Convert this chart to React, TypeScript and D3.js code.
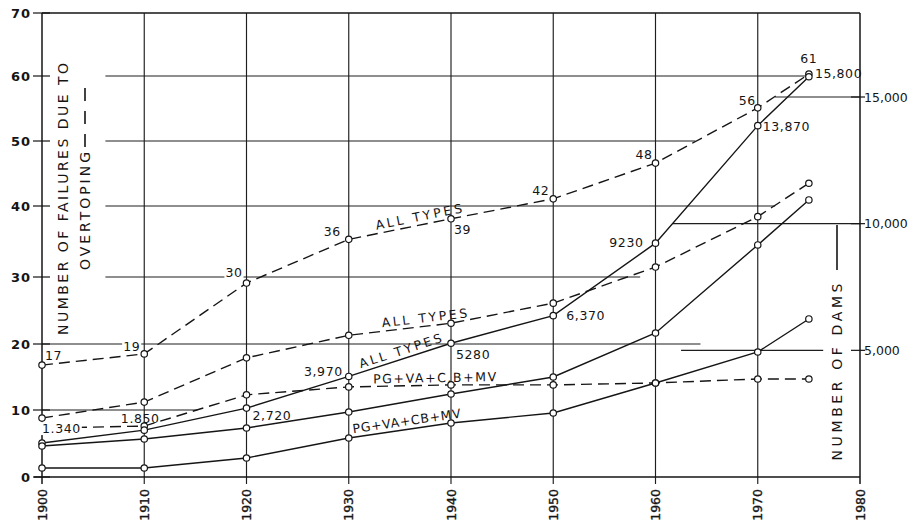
import React, { useEffect, useRef } from "react";
import * as d3 from "d3";

const W = 911;
const H = 530;

// ---- data ----
const years = [1900, 1910, 1920, 1930, 1940, 1950, 1960, 1970, 1975];
// failures due to overtopping (left axis, dashed)
const failuresAllTypes = [16.8, 18.5, 29.1, 35.3, 38.2, 41.1, 46.6, 55.1, 60.3];
const failuresAllTypes2 = [8.8, 11.2, 17.9, 21.3, 23.1, 26.1, 31.4, 38.5, 43.5];
const failuresPGVACBMV = [7.3, 7.6, 12.3, 13.5, 13.8, 13.8, 14.1, 14.7, 14.7];
// number of dams (right axis, solid)
const damsAllTypes = [1340, 1850, 2720, 3970, 5280, 6370, 9230, 13870, 15800];
const damsMiddle = [1224, 1500, 1934, 2566, 3277, 3948, 5685, 9159, 10936];
const damsPGVACBMV = [355, 355, 750, 1540, 2132, 2527, 3711, 4935, 6238];

const failureLabels = ["17", "19", "30", "36", "39", "42", "48", "56", "61"];
const damLabels = ["1.340", "1.850", "2,720", "3,970", "5280", "6,370", "9230", "13,870", "15,800"];

const leftTicks = [0, 10, 20, 30, 40, 50, 60, 70];
const rightTicks = [5000, 10000, 15000];
const rightTickLabels = ["5,000", "10,000", "15,000"];
const xTicks = [1900, 1910, 1920, 1930, 1940, 1950, 1960, 1970, 1980];

const FONT = "DejaVu Sans, sans-serif";
const INK = "#151515";

export default function App() {
  const ref = useRef<SVGSVGElement>(null);

  useEffect(() => {
    const svg = d3.select(ref.current);
    svg.selectAll("*").remove();

    const x = d3.scaleLinear().domain([1900, 1980]).range([42, 860]);
    // hand-drawn scale: grid spacing is slightly irregular
    const yL = d3.scaleLinear().domain(leftTicks).range([477, 410, 344, 277, 206, 141, 76, 13]);
    const yR = d3.scaleLinear().domain([0, 15000]).range([477, 97]);

    const g = svg.append("g");

    // ---- grid ----
    const grid = g.append("g").attr("stroke", "#1e1e1e").attr("stroke-width", 1.15);
    xTicks.slice(1, -1).forEach((t) => {
      grid.append("line").attr("x1", x(t)).attr("x2", x(t)).attr("y1", yL(70)).attr("y2", 484);
    });
    const leftGrid = [
      { v: 60, from: 1906.2, to: 1975.1 },
      { v: 50, from: 1906.2, to: 1963.9 },
      { v: 40, from: 1906.2, to: 1971.7 },
      { v: 30, from: 1906.2, to: 1958.5 },
      { v: 20, from: 1900, to: 1964.4 },
      { v: 10, from: 1900, to: 1915.2 },
    ];
    leftGrid.forEach((d) => {
      grid.append("line").attr("x1", x(d.from)).attr("x2", x(d.to)).attr("y1", yL(d.v)).attr("y2", yL(d.v));
    });
    const rightGrid = [
      { v: 15000, from: 1971.7, to: 1980 },
      { v: 10000, from: 1961.7, to: 1980 },
      { v: 5000, from: 1962.5, to: 1976.4 },
    ];
    rightGrid.forEach((d) => {
      grid.append("line").attr("x1", x(d.from)).attr("x2", x(d.to)).attr("y1", yR(d.v)).attr("y2", yR(d.v));
    });

    // ---- frame / axes ----
    const ax = g.append("g").attr("stroke", INK).attr("stroke-width", 1.5);
    ax.append("line").attr("x1", x(1900)).attr("x2", x(1980)).attr("y1", yL(70)).attr("y2", yL(70));
    ax.append("line").attr("x1", x(1900)).attr("x2", x(1900)).attr("y1", yL(70)).attr("y2", 484);
    ax.append("line").attr("x1", x(1980)).attr("x2", x(1980)).attr("y1", yL(70)).attr("y2", 484);
    ax.append("line").attr("x1", 34).attr("x2", x(1980)).attr("y1", yL(0)).attr("y2", yL(0));
    leftTicks.forEach((t) => {
      ax.append("line").attr("x1", 33).attr("x2", 50).attr("y1", yL(t)).attr("y2", yL(t)).attr("stroke-width", 1.2);
    });
    rightTicks.forEach((t) => {
      ax.append("line").attr("x1", 851).attr("x2", 865).attr("y1", yR(t)).attr("y2", yR(t)).attr("stroke-width", 1.2);
    });

    // ---- tick labels ----
    const tl = g.append("g").attr("font-family", FONT).attr("fill", INK);
    leftTicks.forEach((t) => {
      tl.append("text")
        .attr("x", 31)
        .attr("y", yL(t))
        .attr("text-anchor", "end")
        .attr("dominant-baseline", "central")
        .attr("font-size", 13)
        .attr("font-weight", "bold")
        .attr("letter-spacing", 1)
        .text(String(t));
    });
    rightTicks.forEach((t, i) => {
      tl.append("text")
        .attr("x", 864)
        .attr("y", yR(t))
        .attr("dominant-baseline", "central")
        .attr("font-size", 12.5)
        .text(rightTickLabels[i]);
    });
    xTicks.forEach((t) => {
      tl.append("text")
        .attr("transform", `translate(${x(t)},489) rotate(-90)`)
        .attr("text-anchor", "end")
        .attr("dominant-baseline", "central")
        .attr("font-size", 12.5)
        .attr("stroke", INK)
        .attr("stroke-width", 0.35)
        .text(String(t));
    });

    // ---- axis titles ----
    const at = g.append("g").attr("font-family", FONT).attr("fill", INK).attr("font-size", 14);
    at.append("text")
      .attr("transform", "translate(63,199) rotate(-90)")
      .attr("text-anchor", "middle")
      .attr("dominant-baseline", "central")
      .attr("textLength", 272)
      .attr("lengthAdjust", "spacing")
      .text("NUMBER OF FAILURES DUE TO");
    at.append("text")
      .attr("transform", "translate(85,211) rotate(-90)")
      .attr("text-anchor", "middle")
      .attr("dominant-baseline", "central")
      .attr("textLength", 118)
      .attr("lengthAdjust", "spacing")
      .text("OVERTOPING");
    g.append("line")
      .attr("x1", 85).attr("x2", 85).attr("y1", 147).attr("y2", 88)
      .attr("stroke", INK).attr("stroke-width", 1.6).attr("stroke-dasharray", "13,10");
    at.append("text")
      .attr("transform", "translate(837,372) rotate(-90)")
      .attr("text-anchor", "middle")
      .attr("dominant-baseline", "central")
      .attr("textLength", 177)
      .attr("lengthAdjust", "spacing")
      .text("NUMBER OF DAMS");
    g.append("line")
      .attr("x1", 837).attr("x2", 837).attr("y1", 270).attr("y2", 225)
      .attr("stroke", INK).attr("stroke-width", 1.6);

    // ---- series ----
    type S = { vals: number[]; y: d3.ScaleLinear<number, number>; dashed: boolean; skipFirstDot?: boolean };
    const series: S[] = [
      { vals: failuresAllTypes, y: yL, dashed: true },
      { vals: failuresAllTypes2, y: yL, dashed: true },
      { vals: failuresPGVACBMV, y: yL, dashed: true, skipFirstDot: true },
      { vals: damsAllTypes, y: yR, dashed: false },
      { vals: damsMiddle, y: yR, dashed: false },
      { vals: damsPGVACBMV, y: yR, dashed: false },
    ];
    const lg = g.append("g").attr("fill", "none").attr("stroke", INK).attr("stroke-width", 1.4);
    series.forEach((s) => {
      const line = d3
        .line<number>()
        .x((_, i) => x(years[i]))
        .y((v) => s.y(v));
      lg.append("path")
        .attr("d", line(s.vals) as string)
        .attr("stroke-dasharray", s.dashed ? "11,6" : null);
    });

    // ---- point labels ----
    const pl = g.append("g").attr("font-family", FONT).attr("fill", INK).attr("font-size", 12.5);
    const addLabel = (txt: string, px: number, py: number, dx: number, dy: number, anchor: string, bg: boolean) => {
      const t = pl
        .append("text")
        .attr("x", px + dx)
        .attr("y", py + dy)
        .attr("text-anchor", anchor)
        .attr("letter-spacing", 0.6)
        .text(txt);
      if (bg) {
        const b = (t.node() as SVGTextElement).getBBox();
        pl.insert("rect", () => t.node() as any)
          .attr("x", b.x - 1)
          .attr("y", b.y + 1)
          .attr("width", b.width + 2)
          .attr("height", b.height - 2)
          .attr("fill", "#fff");
      }
    };
    const failOffsets: [number, number, string, boolean][] = [
      [3, -5, "start", false],
      [-4, -3, "end", true],
      [-4, -6, "end", true],
      [-8, -3, "end", false],
      [3, 15, "start", false],
      [-4, -4, "end", false],
      [-3, -4, "end", false],
      [-2, -3, "end", false],
      [0, -11, "middle", false],
    ];
    failureLabels.forEach((lab, i) => {
      const o = failOffsets[i];
      addLabel(lab, x(years[i]), yL(failuresAllTypes[i]), o[0], o[1], o[2], o[3]);
    });
    const damOffsets: [number, number, string, boolean][] = [
      [0, -10, "start", true],
      [-4, -7, "middle", false],
      [6, 12, "start", false],
      [-6, 0, "end", false],
      [5, 16, "start", false],
      [13, 4, "start", false],
      [-12, 4, "end", false],
      [5, 5, "start", false],
      [6, 1, "start", false],
    ];
    damLabels.forEach((lab, i) => {
      const o = damOffsets[i];
      addLabel(lab, x(years[i]), yR(damsAllTypes[i]), o[0], o[1], o[2], o[3]);
    });

    // ---- series labels along segments ----
    const sl = g.append("g").attr("font-family", FONT).attr("fill", INK).attr("font-size", 12.5);
    const segLabel = (
      txt: string,
      vals: number[],
      ys: d3.ScaleLinear<number, number>,
      i: number,
      t: number,
      off: number,
      anchor: string,
      len: number
    ) => {
      const x0 = x(years[i]), y0 = ys(vals[i]);
      const x1 = x(years[i + 1]), y1 = ys(vals[i + 1]);
      const px = x0 + (x1 - x0) * t;
      const py = y0 + (y1 - y0) * t;
      const ang = (Math.atan2(y1 - y0, x1 - x0) * 180) / Math.PI;
      sl.append("text")
        .attr("transform", `translate(${px},${py}) rotate(${ang})`)
        .attr("y", off)
        .attr("text-anchor", anchor)
        .attr("textLength", len)
        .attr("lengthAdjust", "spacing")
        .text(txt);
    };
    segLabel("ALL TYPES", failuresAllTypes, yL, 3, 0.7, -4, "middle", 88);
    segLabel("ALL TYPES", failuresAllTypes2, yL, 3, 0.75, -4, "middle", 86);
    segLabel("ALL TYPES", damsAllTypes, yR, 3, 0.53, -4, "middle", 86);
    segLabel("PG+VA+C.B+MV", failuresPGVACBMV, yL, 3, 0.24, -3, "start", 123);
    segLabel("PG+VA+CB+MV", damsPGVACBMV, yR, 3, 0.05, -4, "start", 109);

    // ---- dots ----
    const dg = g.append("g").attr("fill", "#fff").attr("stroke", INK).attr("stroke-width", 1.2);
    series.forEach((s) => {
      s.vals.forEach((v, i) => {
        if (s.skipFirstDot && i === 0) return;
        dg.append("circle").attr("cx", x(years[i])).attr("cy", s.y(v)).attr("r", 3.2);
      });
    });
  }, []);

  return (
    <div style={{ position: "absolute", left: 0, top: 0, width: W, height: H, background: "#fff" }}>
      <svg ref={ref} width={W} height={H} style={{ display: "block", background: "#fff" }} />
    </div>
  );
}
